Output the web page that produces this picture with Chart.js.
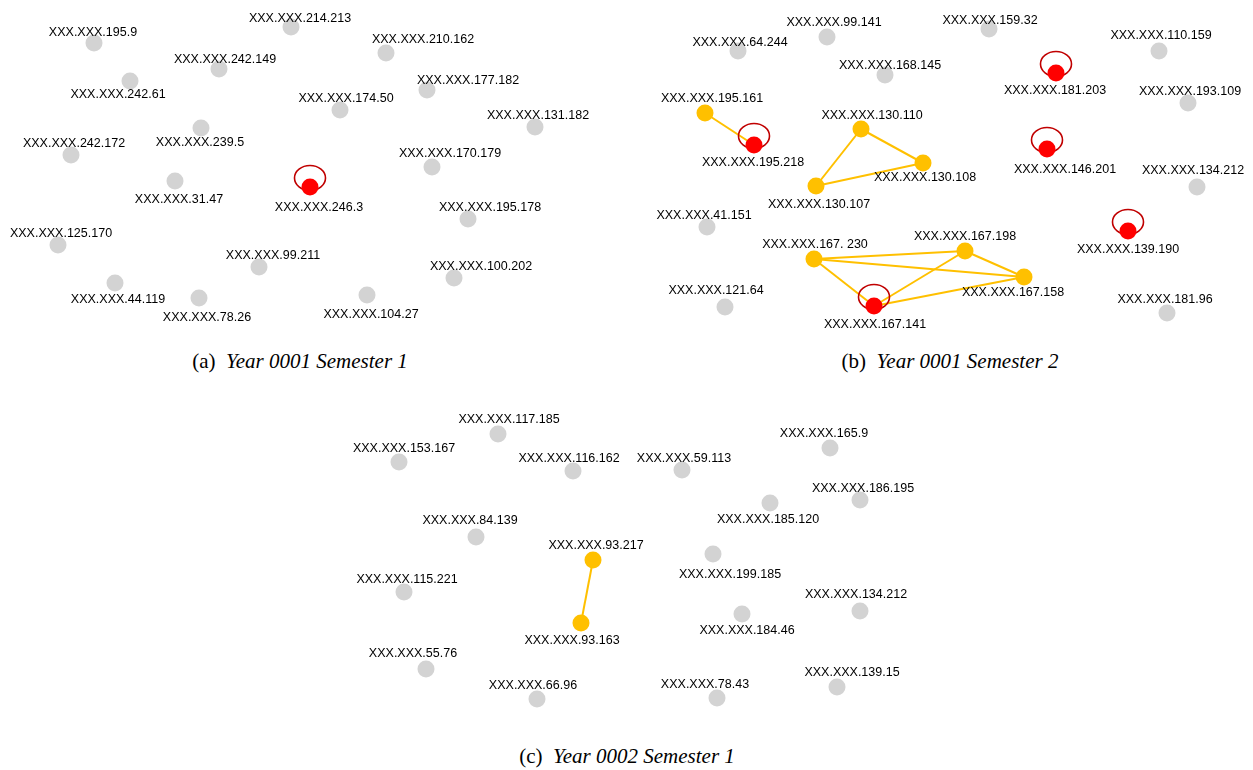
<!DOCTYPE html>
<html>
<head>
<meta charset="utf-8">
<script src="https://cdn.jsdelivr.net/npm/chart.js@4.4.1/dist/chart.umd.min.js"></script>
<style>
    body { margin: 0; background: #fff; width: 1253px; height: 770px; position: relative; overflow: hidden; }
    .panel { position: absolute; }
    .caption {
        position: absolute; transform: translateX(-50%);
        font-family: 'Liberation Serif', 'Times New Roman', serif; font-size: 21px;
        color: #000; white-space: pre;
    }
    .caption i { font-style: italic; }
</style>
</head>
<body>
<div class="panel" id="wrapA" style="left:0;top:0;width:620px;height:340px"><canvas id="chartA"></canvas></div>
<div class="panel" id="wrapB" style="left:620px;top:0;width:633px;height:340px"><canvas id="chartB"></canvas></div>
<div class="panel" id="wrapC" style="left:330px;top:400px;width:600px;height:330px"><canvas id="chartC"></canvas></div>
<div class="caption" style="left:300px;top:349px">(a)  <i>Year 0001 Semester 1</i></div>
<div class="caption" style="left:950px;top:349px">(b)  <i>Year 0001 Semester 2</i></div>
<div class="caption" style="left:627px;top:744px">(c)  <i>Year 0002 Semester 1</i></div>
<script>
// ---- Semester graphs: hosts, layout coordinates, kind (0 = idle, 1 = linked, 2 = self-loop) ----
const hostsA = ['195.9', '214.213', '210.162', '242.149', '242.61', '177.182', '174.50', '131.182', '239.5', '242.172',
    '170.179', '31.47', '246.3', '195.178', '125.170', '99.211', '100.202', '44.119', '78.26', '104.27'];
const xA = [94, 291, 386, 219, 130, 427, 340, 535, 201, 71, 432, 175, 310, 468, 58, 259, 454, 115, 199, 367];
const yA = [43, 27, 53, 69, 81, 90, 110, 127, 128, 155, 167, 181, 187, 219, 245, 267, 278, 283, 298, 295];
const kindA = [0, 0, 0, 0, 0, 0, 0, 0, 0, 0, 0, 0, 2, 0, 0, 0, 0, 0, 0, 0];
const edgesA = [];

const hostsB = ['99.141', '64.244', '159.32', '110.159', '168.145', '181.203', '193.109', '195.161', '195.218', '130.110',
    '130.108', '130.107', '146.201', '134.212', '41.151', '139.190', '167. 230', '167.198', '167.158', '167.141',
    '121.64', '181.96'];
const xB = [827, 738, 989, 1159, 885, 1056, 1188, 705, 754, 861, 923, 816, 1047, 1197, 707, 1128, 814, 965, 1024, 874, 725, 1167];
const yB = [37, 51, 29, 51, 75, 73, 103, 113, 145, 129, 163, 186, 149, 187, 227, 231, 259, 251, 277, 306, 307, 313];
const kindB = [0, 0, 0, 0, 0, 2, 0, 1, 2, 1, 1, 1, 2, 0, 0, 2, 1, 1, 1, 2, 0, 0];
const edgesB = [
    ['195.161', '195.218'],
    ['130.110', '130.108'], ['130.110', '130.107'], ['130.107', '130.108'],
    ['167. 230', '167.198'], ['167. 230', '167.158'], ['167. 230', '167.141'],
    ['167.198', '167.141'], ['167.198', '167.158'], ['167.141', '167.158']
];

const hostsC = ['117.185', '153.167', '116.162', '59.113', '165.9', '186.195', '185.120', '84.139', '93.217', '199.185',
    '115.221', '134.212', '184.46', '93.163', '55.76', '139.15', '66.96', '78.43'];
const xC = [498, 399, 573, 682, 830, 860, 770, 476, 593, 713, 404, 860, 742, 581, 426, 837, 537, 717];
const yC = [434, 462, 471, 470, 448, 500, 503, 537, 560, 554, 592, 611, 614, 623, 669, 687, 699, 698];
const kindC = [0, 0, 0, 0, 0, 0, 0, 0, 1, 0, 0, 0, 0, 1, 0, 0, 0, 0];
const edgesC = [['93.217', '93.163']];

// where each label sits relative to its node
const labelOffA = [[-1, -12], [9, -10], [37, -15], [6, -11], [-12, 12], [41, -11], [6, -13], [3, -13], [-1, 13], [3, -13],
    [18, -15], [4, 17], [9, 19], [22, -13], [3, -13], [14, -13], [27, -13], [3, 15], [8, 18], [4, 18]];
const labelOffB = [[7, -16], [2, -10], [1, -10], [2, -17], [5, -11], [-1, 16], [2, -13], [7, -16], [-1, 16], [11, -15],
    [2, 13], [3, 17], [18, 19], [-4, -18], [-3, -13], [0, 17], [1, -16], [0, -16], [-11, 14], [1, 17], [-9, -18], [-2, -15]];
const labelOffC = [[11, -16], [5, -15], [-4, -14], [2, -13], [-6, -16], [3, -13], [-2, 15], [-6, -18], [3, -16], [17, 19],
    [3, -14], [-4, -18], [5, 15], [-9, 16], [-13, -17], [15, -16], [-4, -15], [-12, -15]];

const KIND_COLORS = ['#d3d3d3', '#ffc000', '#ff0000'];
const LOOP_COLOR = '#c00000';
const EDGE_COLOR = '#ffc000';

// self-loop ellipses, drawn just before the red nodes so the node covers the loop foot
const loopPlugin = {
    id: 'loops',
    beforeDatasetDraw(chart, args) {
        const ds = chart.data.datasets[args.index];
        if (!ds.isLoopSet) return;
        const ctx = chart.ctx;
        const meta = chart.getDatasetMeta(args.index);
        ctx.save();
        ctx.strokeStyle = LOOP_COLOR;
        ctx.lineWidth = 1.6;
        meta.data.forEach(pt => {
            ctx.beginPath();
            ctx.ellipse(pt.x, pt.y - 9, 15.5, 12.5, 0, 0, Math.PI * 2);
            ctx.stroke();
        });
        ctx.restore();
    }
};

// host labels
const labelPlugin = {
    id: 'hostLabels',
    afterDatasetsDraw(chart) {
        const g = chart.options.plugins.hostLabels;
        const ctx = chart.ctx;
        const sx = chart.scales.x, sy = chart.scales.y;
        ctx.save();
        ctx.font = '12.5px "Liberation Sans", Arial, sans-serif';
        ctx.fillStyle = '#000';
        ctx.textAlign = 'center';
        ctx.textBaseline = 'middle';
        g.hosts.forEach((h, i) => {
            const px = sx.getPixelForValue(g.xs[i]) + g.offsets[i][0];
            const py = sy.getPixelForValue(g.ys[i]) + g.offsets[i][1] + 1.5;
            ctx.fillText('XXX.XXX.' + h, px, py);
        });
        ctx.restore();
    }
};

function buildGraph(canvasId, hosts, xs, ys, kinds, edges, offsets, xRange, yRange) {
    const datasets = [];

    edges.forEach(([a, b]) => {
        const i = hosts.indexOf(a), j = hosts.indexOf(b);
        datasets.push({
            data: [{ x: xs[i], y: ys[i] }, { x: xs[j], y: ys[j] }],
            showLine: true,
            borderColor: EDGE_COLOR,
            borderWidth: 2,
            pointRadius: 0,
            order: 3
        });
    });

    [0, 1, 2].forEach(k => {
        const pts = [];
        hosts.forEach((h, i) => { if (kinds[i] === k) pts.push({ x: xs[i], y: ys[i] }); });
        if (!pts.length) return;
        datasets.push({
            data: pts,
            backgroundColor: KIND_COLORS[k],
            borderWidth: 0,
            pointRadius: 8.5,
            pointHoverRadius: 8.5,
            isLoopSet: k === 2,
            order: 2 - k * 0.1
        });
    });

    return new Chart(document.getElementById(canvasId), {
        type: 'scatter',
        data: { datasets },
        options: {
            responsive: true,
            maintainAspectRatio: false,
            animation: false,
            layout: { padding: 0, autoPadding: false },
            events: [],
            plugins: {
                legend: { display: false },
                tooltip: { enabled: false },
                hostLabels: { hosts, xs, ys, offsets }
            },
            scales: {
                x: { type: 'linear', display: false, min: xRange[0], max: xRange[1] },
                y: { type: 'linear', display: false, reverse: true, min: yRange[0], max: yRange[1] }
            }
        },
        plugins: [loopPlugin, labelPlugin]
    });
}

buildGraph('chartA', hostsA, xA, yA, kindA, edgesA, labelOffA, [0, 620], [0, 340]);
buildGraph('chartB', hostsB, xB, yB, kindB, edgesB, labelOffB, [620, 1253], [0, 340]);
buildGraph('chartC', hostsC, xC, yC, kindC, edgesC, labelOffC, [330, 930], [400, 730]);
</script>
</body>
</html>
